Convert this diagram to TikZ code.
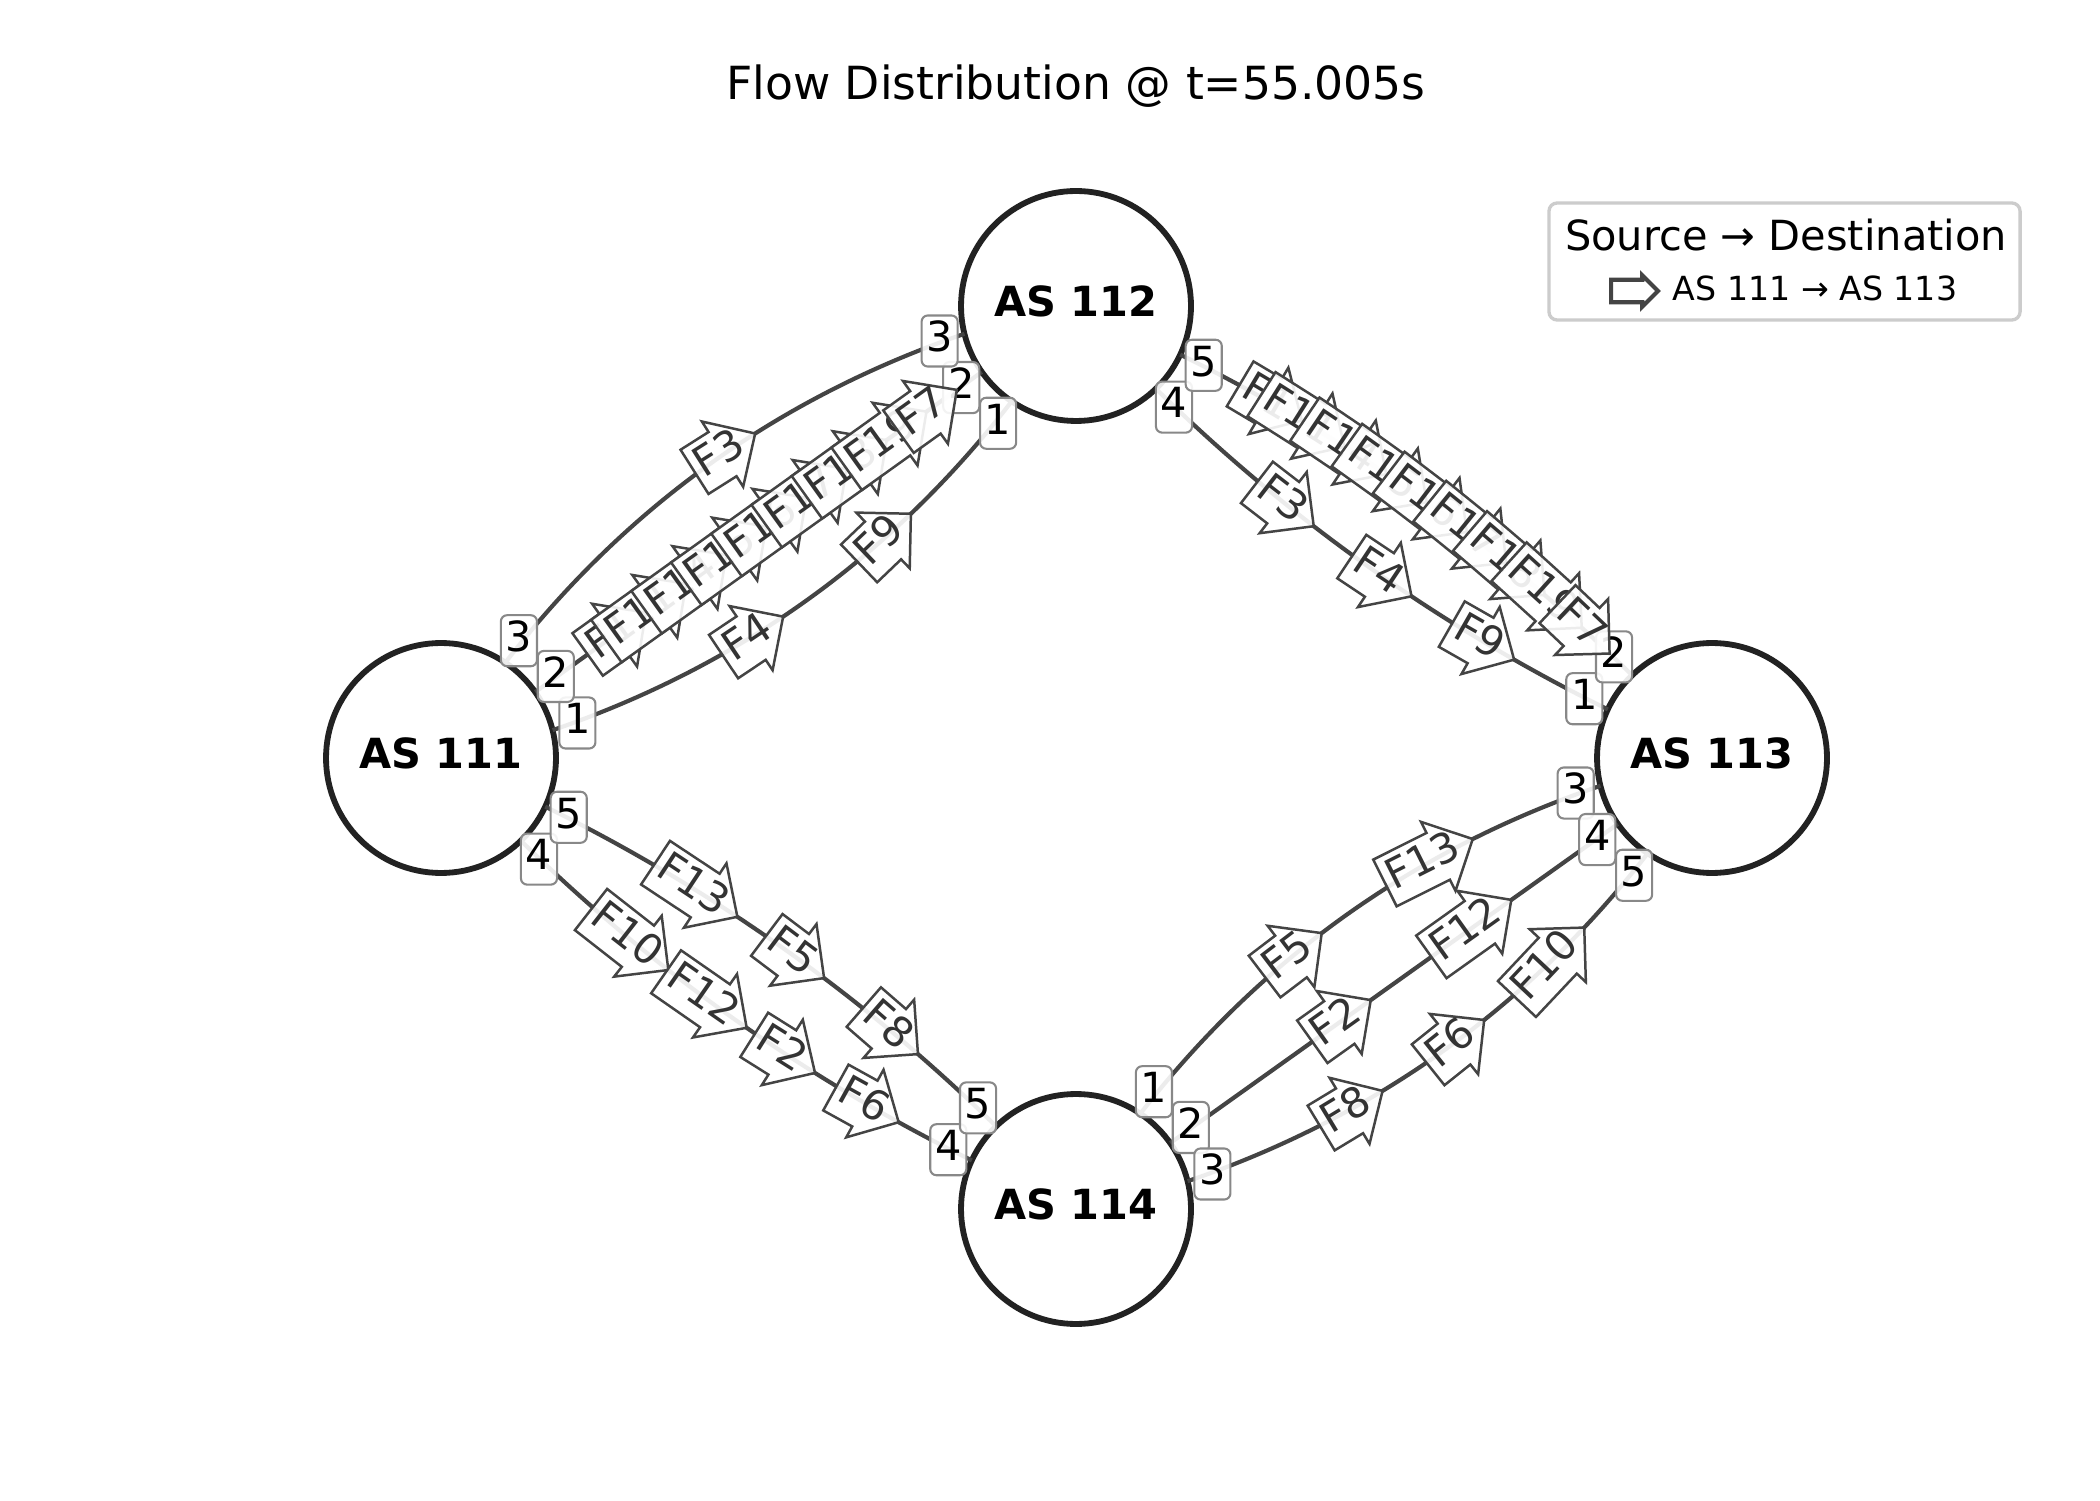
\documentclass[tikz,border=0pt]{standalone}
\usepackage{fontspec}
\setmainfont{DejaVu Sans}
\usetikzlibrary{shapes.arrows,calc}

\definecolor{nodeedge}{HTML}{222222}
\definecolor{linkgray}{HTML}{444444}
\definecolor{portedge}{HTML}{888888}
\definecolor{flowtext}{HTML}{333333}
\definecolor{legendedge}{HTML}{CCCCCC}

\tikzset{
  asnode/.style={circle, draw=nodeedge, line width=1.4pt, fill=white,
    minimum size=55.4pt, inner sep=0pt, outer sep=0pt,
    font=\fontsize{10}{12}\selectfont\bfseries, text height=7.6pt, text depth=2.4pt},
  link/.style={draw=linkgray, line width=1pt},
  wideleft/.style={bend left=16.7, looseness=0.889},
  wideright/.style={bend right=16.7, looseness=0.889},
  narrowleft/.style={bend left=9.1, looseness=0.862},
  narrowright/.style={bend right=9.1, looseness=0.862},
  port/.style={rectangle, rounded corners=1.5pt, draw=portedge, line width=0.5pt,
    fill=white, fill opacity=0.9, text opacity=1, inner sep=0pt, outer sep=0pt,
    minimum width=8.7pt, minimum height=12.3pt, text height=7.6pt, text depth=2.4pt,
    font=\fontsize{10}{12}\selectfont},
  flow/.style={single arrow, single arrow head extend=3pt, single arrow tip angle=90,
    single arrow head indent=0pt, draw=linkgray, line width=0.6pt, fill=white,
    fill opacity=0.9, text opacity=1, text=flowtext, font=\fontsize{10}{12}\selectfont,
    inner xsep=1pt, inner ysep=1pt, outer sep=0pt, text height=7.6pt, text depth=2.4pt,
    execute at end node={\kern-3.73pt}, sloped, anchor=tip},
  legendbox/.style={rectangle, rounded corners=2pt, draw=legendedge, line width=0.8pt,
    fill=white, fill opacity=0.8, minimum width=113.5pt, minimum height=28.2pt},
  legendarrow/.style={single arrow, single arrow head extend=1.1pt, single arrow tip angle=90,
    single arrow head indent=0pt, draw=linkgray, line width=1pt, fill=white,
    inner sep=0pt, outer sep=0pt, text height=2.2pt, text depth=2.2pt, minimum height=11.3pt}
}

\begin{document}
\begin{tikzpicture}[x=0.2409pt, y=0.2409pt]
\fill[white] (0,0) rectangle (2100,1500);
\useasboundingbox (0,0) rectangle (2100,1500);

\node[font=\fontsize{11}{13}\selectfont, anchor=base, inner sep=0pt] (title) at (1076,1400) {Flow Distribution @ t=55.005s};

% autonomous systems
\node[asnode] (as111) at (441,742) {AS 111};
\node[asnode] (as112) at (1076,1194) {AS 112};
\node[asnode] (as113) at (1712,742) {AS 113};
\node[asnode] (as114) at (1076,291) {AS 114};

% links
\draw[link] (as111.56.4) to[wideleft] (as112.194.4);
\draw[link] (as111.35.4) to (as112.215.4);
\draw[link] (as111.14.4) to[wideright] (as112.236.4);
\draw[link] (as112.335.1) to[narrowleft] (as113.134.1);
\draw[link] (as112.314.1) to[narrowright] (as113.155.1);
\draw[link] (as111.335.1) to[narrowleft] (as114.134.1);
\draw[link] (as111.314.1) to[narrowright] (as114.155.1);
\draw[link] (as114.56.4) to[wideleft] (as113.194.4);
\draw[link] (as114.35.4) to (as113.215.4);
\draw[link] (as114.14.4) to[wideright] (as113.236.4);

% port numbers
\node[port] (as111p1) at ($(as111)+(14.4:140.8)$) {1};
\node[port] (as111p2) at ($(as111)+(35.4:140.8)$) {2};
\node[port] (as111p3) at ($(as111)+(56.4:140.8)$) {3};
\node[port] (as111p4) at ($(as111)+(314.1:140.8)$) {4};
\node[port] (as111p5) at ($(as111)+(335.1:140.8)$) {5};
\node[port] (as112p1) at ($(as112)+(236.4:140.8)$) {1};
\node[port] (as112p2) at ($(as112)+(215.4:140.8)$) {2};
\node[port] (as112p3) at ($(as112)+(194.4:140.8)$) {3};
\node[port] (as112p4) at ($(as112)+(314.1:140.8)$) {4};
\node[port] (as112p5) at ($(as112)+(335.1:140.8)$) {5};
\node[port] (as113p1) at ($(as113)+(155.1:140.8)$) {1};
\node[port] (as113p2) at ($(as113)+(134.1:140.8)$) {2};
\node[port] (as113p3) at ($(as113)+(194.4:140.8)$) {3};
\node[port] (as113p4) at ($(as113)+(215.4:140.8)$) {4};
\node[port] (as113p5) at ($(as113)+(236.4:140.8)$) {5};
\node[port] (as114p1) at ($(as114)+(56.4:140.8)$) {1};
\node[port] (as114p2) at ($(as114)+(35.4:140.8)$) {2};
\node[port] (as114p3) at ($(as114)+(14.4:140.8)$) {3};
\node[port] (as114p4) at ($(as114)+(155.1:140.8)$) {4};
\node[port] (as114p5) at ($(as114)+(134.1:140.8)$) {5};

% flows on the links
\path (as111.56.4) to[wideleft] node[flow, pos=0.596] (f3ab) {F3} (as112.194.4);
\path (as111.35.4) to
  node[flow, pos=0.248] (f1ab) {F1}
  node[flow, pos=0.338] (f11ab) {F11}
  node[flow, pos=0.428] (f14ab) {F14}
  node[flow, pos=0.517] (f15ab) {F15}
  node[flow, pos=0.607] (f16ab) {F16}
  node[flow, pos=0.697] (f17ab) {F17}
  node[flow, pos=0.787] (f18ab) {F18}
  node[flow, pos=0.876] (f19ab) {F19}
  node[flow, pos=0.944] (f7ab) {F7} (as112.215.4);
\path (as111.14.4) to[wideright]
  node[flow, pos=0.449] (f4ab) {F4}
  node[flow, pos=0.739] (f9ab) {F9} (as112.236.4);
\path (as112.335.1) to[narrowleft]
  node[flow, pos=0.248] (f1bc) {F1}
  node[flow, pos=0.338] (f11bc) {F11}
  node[flow, pos=0.428] (f14bc) {F14}
  node[flow, pos=0.517] (f15bc) {F15}
  node[flow, pos=0.607] (f16bc) {F16}
  node[flow, pos=0.697] (f17bc) {F17}
  node[flow, pos=0.787] (f18bc) {F18}
  node[flow, pos=0.876] (f19bc) {F19}
  node[flow, pos=0.944] (f7bc) {F7} (as113.134.1);
\path (as112.314.1) to[narrowright]
  node[flow, pos=0.376] (f3bc) {F3}
  node[flow, pos=0.593] (f4bc) {F4}
  node[flow, pos=0.810] (f9bc) {F9} (as113.155.1);
\path (as111.335.1) to[narrowleft]
  node[flow, pos=0.399] (f13ad) {F13}
  node[flow, pos=0.591] (f5ad) {F5}
  node[flow, pos=0.809] (f8ad) {F8} (as114.134.1);
\path (as111.314.1) to[narrowright]
  node[flow, pos=0.353] (f10ad) {F10}
  node[flow, pos=0.529] (f12ad) {F12}
  node[flow, pos=0.677] (f2ad) {F2}
  node[flow, pos=0.852] (f6ad) {F6} (as114.155.1);
\path (as114.56.4) to[wideleft]
  node[flow, pos=0.447] (f5dc) {F5}
  node[flow, pos=0.761] (f13dc) {F13} (as113.194.4);
\path (as114.35.4) to
  node[flow, pos=0.448] (f2dc) {F2}
  node[flow, pos=0.762] (f12dc) {F12} (as113.215.4);
\path (as114.14.4) to[wideright]
  node[flow, pos=0.374] (f8dc) {F8}
  node[flow, pos=0.593] (f6dc) {F6}
  node[flow, pos=0.832] (f10dc) {F10} (as113.236.4);

% legend
\node[legendbox] (legend) at (1784.5,1238.5) {};
\node[font=\fontsize{10}{12}\selectfont, anchor=base, inner sep=0pt] (legtitle) at (1786,1249.3) {Source → Destination};
\node[legendarrow, anchor=tip] (legsym) at (1658,1209) {};
\node[font=\fontsize{8}{9.6}\selectfont, anchor=base west, inner sep=0pt] (legtext) at (1672,1199.3) {AS 111 → AS 113};
\end{tikzpicture}
\end{document}
